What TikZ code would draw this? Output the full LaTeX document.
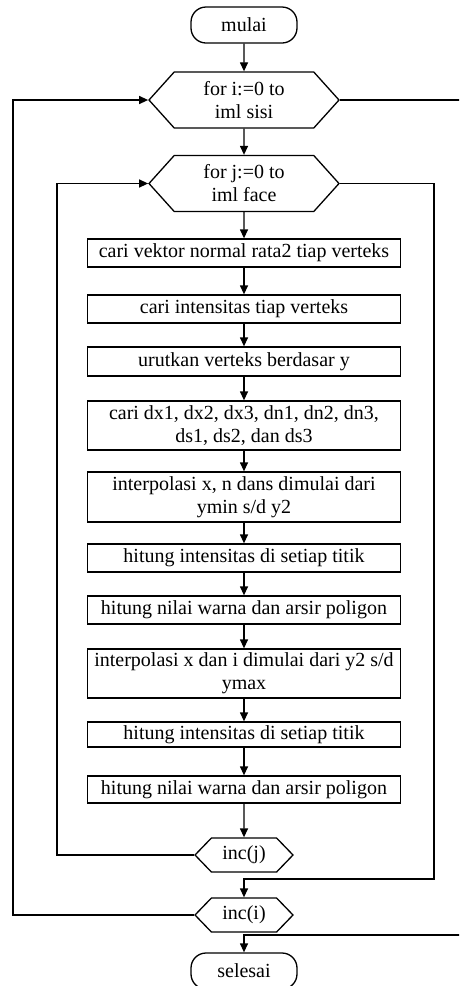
\documentclass[tikz,border=0pt]{standalone}
\usepackage{fontspec}
\setmainfont{Liberation Serif}
\usetikzlibrary{shapes.symbols,arrows.meta}

\begin{document}
\begin{tikzpicture}[x=1pt,y=-1pt,line width=1.3pt,
        font=\fontsize{20}{23}\selectfont,
        terminal/.style={draw,rounded corners=15pt,minimum width=106pt,minimum height=36pt,inner sep=0pt},
        loophex/.style={draw,signal,signal to=west and east,signal pointer angle=96,minimum width=190pt,minimum height=56pt,inner sep=0pt,align=center},
        inchex/.style={draw,signal,signal to=west and east,signal pointer angle=92,minimum width=98pt,minimum height=34pt,inner sep=0pt},
        proc/.style={draw,minimum width=313pt,inner sep=0pt,align=center},
        arr/.style={-{Triangle[length=9pt,width=8pt]}}]
        \clip (0,0) rectangle (459,986);
        \node[terminal] (mulai) at (244,25) {mulai};
        \node[loophex] (fi) at (244,100) {for i:=0 to\\iml sisi};
        \node[loophex] (fj) at (244,183.5) {for j:=0 to\\iml face};
        \node[proc,minimum height=28pt] (b1) at (244,253) {cari vektor normal rata2 tiap verteks};
        \node[proc,minimum height=28pt] (b2) at (244,309) {cari intensitas tiap verteks};
        \node[proc,minimum height=29pt] (b3) at (244,361.5) {urutkan verteks berdasar y};
        \node[proc,minimum height=49pt] (b4) at (244,425.5) {cari dx1, dx2, dx3, dn1, dn2, dn3,\\ds1, ds2, dan ds3};
        \node[proc,minimum height=50pt] (b5) at (244,497) {interpolasi x, n dans dimulai dari\\ymin s/d y2};
        \node[proc,minimum height=28pt] (b6) at (244,558) {hitung intensitas di setiap titik};
        \node[proc,minimum height=28pt] (b7) at (244,610) {hitung nilai warna dan arsir poligon};
        \node[proc,minimum height=49pt] (b8) at (244,673.5) {interpolasi x dan i dimulai dari y2 s/d\\ymax};
        \node[proc,minimum height=25pt] (b9) at (244,734.5) {hitung intensitas di setiap titik};
        \node[proc,minimum height=27pt] (b10) at (244,789.5) {hitung nilai warna dan arsir poligon};
        \node[inchex] (ij) at (244,855) {inc(j)};
        \node[inchex] (ii) at (244,915) {inc(i)};
        \node[terminal] (selesai) at (244,971) {selesai};
        \coordinate (jl) at (57,855);
        \coordinate (jr) at (434,879);
        \coordinate (il) at (13,915);
        \coordinate (ir) at (462,935);
        \draw[arr](mulai)--(fi);
        \draw[arr](fi)--(fj);
        \draw[arr](fj)--(b1);
        \draw[arr](b1)--(b2);
        \draw[arr](b2)--(b3);
        \draw[arr](b3)--(b4);
        \draw[arr](b4)--(b5);
        \draw[arr](b5)--(b6);
        \draw[arr](b6)--(b7);
        \draw[arr](b7)--(b8);
        \draw[arr](b8)--(b9);
        \draw[arr](b9)--(b10);
        \draw[arr](b10)--(ij);
        \draw[arr](ij.west)--(jl)|-(fj.west);
        \draw[arr](fj.east)-|(jr)-|(ii.north);
        \draw[arr](ii.west)--(il)|-(fi.west);
        \draw[arr](fi.east)-|(ir)-|(selesai.north);
        \end{tikzpicture}
\end{document}
